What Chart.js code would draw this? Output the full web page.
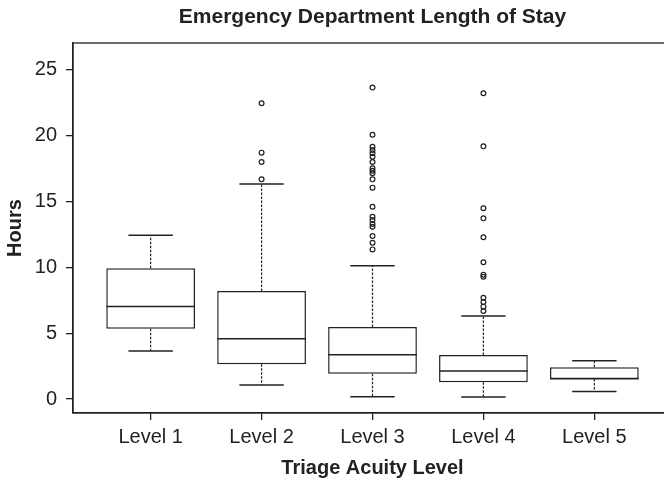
<!DOCTYPE html>
<html>
<head>
<meta charset="utf-8">
<script src="https://cdn.jsdelivr.net/npm/chart.js@4.4.1/dist/chart.umd.min.js"></script>
<style>
  html, body { margin: 0; padding: 0; background: #fff; overflow: hidden; }
  #wrap { width: 700px; height: 483px; }
</style>
</head>
<body>
<div id="wrap"><canvas id="grafica"></canvas></div>
<script>
// Datos (horas)
const niveles = ['Level 1', 'Level 2', 'Level 3', 'Level 4', 'Level 5'];
const bigoteInf = [3.65, 1.06, 0.18, 0.15, 0.58];
const q1 = [5.34, 2.64, 1.92, 1.27, 1.52];
const mediana = [7.04, 4.58, 3.37, 2.13, 1.55];
const q3 = [9.93, 8.20, 5.47, 3.34, 2.41];
const bigoteSup = [12.44, 16.34, 10.13, 6.31, 2.91];

const atipicos1 = [];
const atipicos2 = [22.47, 18.72, 18.01, 16.69];
const atipicos3 = [23.66, 20.08, 19.17, 18.92, 18.67, 18.41, 18.01, 17.53, 17.35, 17.15,
  16.69, 16.06, 14.61, 13.85, 13.6, 13.3, 13.09, 12.39, 11.88, 11.37];
const atipicos4 = [23.23, 19.2, 14.49, 13.73, 12.29, 10.39, 9.45, 9.29, 7.7, 7.37, 7.02, 6.69];
const atipicos5 = [];

const ticksY = [0, 5, 10, 15, 20, 25];

const titulo = 'Emergency Department Length of Stay';
const tituloX = 'Triage Acuity Level';
const tituloY = 'Hours';

const negro = '#222';
const fuente = "'Liberation Sans', Arial, sans-serif";

// Construir datos para Chart.js
const cajas = niveles.map((n, i) => ({ x: i + 1, y: [q1[i], q3[i]] }));
const puntos = [];
[atipicos1, atipicos2, atipicos3, atipicos4, atipicos5].forEach((lista, i) => {
  lista.forEach(v => puntos.push({ x: i + 1, y: v }));
});

// Bigotes, medianas, marco y titulo
const pluginCajas = {
  id: 'cajas',
  afterDatasetsDraw(chart) {
    const { ctx, chartArea } = chart;
    const sx = chart.scales.x;
    const sy = chart.scales.y;
    ctx.save();
    ctx.strokeStyle = negro;
    for (let i = 0; i < niveles.length; i++) {
      const x = sx.getPixelForValue(i + 1);
      const xa = sx.getPixelForValue(i + 1 - 0.4);
      const xb = sx.getPixelForValue(i + 1 + 0.4);
      const ca = sx.getPixelForValue(i + 1 - 0.2);
      const cb = sx.getPixelForValue(i + 1 + 0.2);

      // lineas punteadas
      ctx.lineWidth = 1.2;
      ctx.setLineDash([2.5, 1.5]);
      ctx.beginPath();
      ctx.moveTo(x, sy.getPixelForValue(q3[i]));
      ctx.lineTo(x, sy.getPixelForValue(bigoteSup[i]));
      ctx.moveTo(x, sy.getPixelForValue(q1[i]));
      ctx.lineTo(x, sy.getPixelForValue(bigoteInf[i]));
      ctx.stroke();

      // topes y mediana
      ctx.setLineDash([]);
      ctx.lineWidth = 1.5;
      ctx.beginPath();
      ctx.moveTo(ca, sy.getPixelForValue(bigoteSup[i]));
      ctx.lineTo(cb, sy.getPixelForValue(bigoteSup[i]));
      ctx.moveTo(ca, sy.getPixelForValue(bigoteInf[i]));
      ctx.lineTo(cb, sy.getPixelForValue(bigoteInf[i]));
      ctx.moveTo(xa, sy.getPixelForValue(mediana[i]));
      ctx.lineTo(xb, sy.getPixelForValue(mediana[i]));
      ctx.stroke();
    }

    // marco
    ctx.lineWidth = 1.3;
    ctx.strokeRect(chartArea.left, chartArea.top, chartArea.right - chartArea.left, chartArea.bottom - chartArea.top);

    // titulo centrado sobre el area del grafico
    ctx.fillStyle = negro;
    ctx.font = 'bold 21px ' + fuente;
    ctx.textAlign = 'center';
    ctx.textBaseline = 'middle';
    ctx.fillText(titulo, (chartArea.left + chartArea.right) / 2, 17);
    ctx.restore();
  }
};

const ctx = document.getElementById('grafica').getContext('2d');
window.graficaInstance = new Chart(ctx, {
  type: 'scatter',
  data: {
    datasets: [
      {
        type: 'bar',
        label: 'Caja',
        data: cajas,
        backgroundColor: '#fff',
        borderColor: negro,
        borderWidth: 1.5,
        borderSkipped: false,
        barPercentage: 1,
        categoryPercentage: 0.8,
        order: 2
      },
      {
        type: 'scatter',
        label: 'Atipicos',
        data: puntos,
        pointStyle: 'circle',
        pointRadius: 2.4,
        pointBorderWidth: 1.2,
        borderColor: negro,
        backgroundColor: 'rgba(0,0,0,0)',
        order: 1
      }
    ]
  },
  options: {
    responsive: true,
    maintainAspectRatio: false,
    animation: false,
    layout: { padding: { top: 43, left: 0, right: 28, bottom: 0 } },
    plugins: {
      legend: { display: false },
      tooltip: { enabled: false }
    },
    scales: {
      x: {
        type: 'linear',
        min: 0.3,
        max: 5.7,
        offset: false,
        afterBuildTicks: (s) => { s.ticks = niveles.map((n, i) => ({ value: i + 1 })); },
        afterFit: (s) => { s.height = 70; },
        ticks: {
          callback: (v) => niveles[v - 1],
          color: negro,
          font: { family: fuente, size: 20 },
          padding: 5,
          maxRotation: 0,
          autoSkip: false
        },
        grid: { drawOnChartArea: false, tickLength: 7, color: negro, lineWidth: 1.3, offset: false },
        border: { display: true, color: negro, width: 1.3 },
        title: {
          display: true,
          text: tituloX,
          color: negro,
          font: { family: fuente, size: 20, weight: 'bold' },
          padding: { top: 0, bottom: 3 }
        }
      },
      y: {
        min: -1.06,
        max: 27.05,
        afterBuildTicks: (s) => { s.ticks = ticksY.map(v => ({ value: v })); },
        afterFit: (s) => { s.width = 73; },
        ticks: {
          color: negro,
          font: { family: fuente, size: 20 },
          padding: 9
        },
        grid: { drawOnChartArea: false, tickLength: 7, color: negro, lineWidth: 1.3 },
        border: { display: true, color: negro, width: 1.3 },
        title: {
          display: true,
          text: tituloY,
          color: negro,
          font: { family: fuente, size: 20, weight: 'bold' },
          padding: { top: 3, bottom: 0 }
        }
      }
    }
  },
  plugins: [pluginCajas]
});
</script>
</body>
</html>
